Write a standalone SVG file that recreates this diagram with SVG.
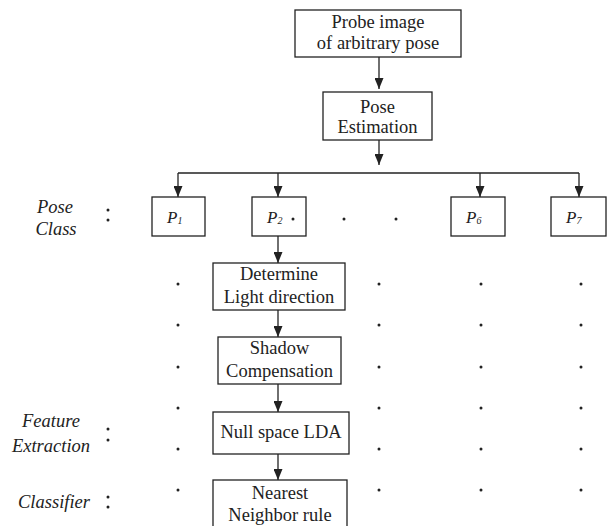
<svg xmlns="http://www.w3.org/2000/svg" width="610" height="526" viewBox="0 0 610 526" font-family="'Liberation Serif', 'Times New Roman', serif">
<style>
.box{fill:#fff;stroke:#222;stroke-width:1.3}
text{font-family:'Liberation Serif','Times New Roman',Times,serif;fill:#222}
.t{font-size:18.5px;text-anchor:middle}
.it{font-style:italic;font-size:18.5px;text-anchor:middle}
.p{font-style:italic;font-size:17px}
.sub{font-size:10px}
.ln{fill:none;stroke:#222;stroke-width:1.3}
.arr{fill:none;stroke:#222;stroke-width:1.3;marker-end:url(#ah)}
.dot{fill:#222}
</style>
<defs>
<marker id="ah" markerUnits="userSpaceOnUse" markerWidth="11" markerHeight="9" refX="11" refY="4.5" orient="auto" viewBox="0 0 11 9">
<path d="M0,0 L11,4.5 L0,9 z" fill="#222"/>
</marker>
</defs>
<rect width="610" height="526" fill="#fff"/>
<g id="connectors">
<path class="arr" d="M379,57 V89"/>
<path class="arr" d="M379,140 V165"/>
<path class="ln" d="M178,173 H579"/>
<path class="arr" d="M178,173 V197"/>
<path class="arr" d="M278,173 V197"/>
<path class="arr" d="M480,173 V197"/>
<path class="arr" d="M579,173 V197"/>
<path class="arr" d="M278,236 V263"/>
<path class="arr" d="M278,310 V337"/>
<path class="arr" d="M278,384 V412"/>
<path class="arr" d="M278,454 V480"/>
</g>
<g id="probe">
<rect class="box" x="295" y="10" width="166" height="47"/>
<text class="t" x="378" y="28">Probe image</text>
<text class="t" x="378" y="49">of arbitrary pose</text>
</g>
<g id="pose-estimation">
<rect class="box" x="323" y="92" width="109" height="48"/>
<text class="t" x="377.5" y="113">Pose</text>
<text class="t" x="377.5" y="133">Estimation</text>
</g>
<g id="p1">
<rect class="box" x="152" y="197" width="53" height="39"/>
<text class="p" x="167" y="223">P<tspan class="sub" dy="1">1</tspan></text>
</g>
<g id="p2">
<rect class="box" x="252" y="197" width="54" height="39"/>
<text class="p" x="267" y="223">P<tspan class="sub" dy="1">2</tspan></text>
<circle class="dot" cx="293" cy="219" r="1.5"/>
</g>
<g id="p6">
<rect class="box" x="451" y="197" width="54" height="39"/>
<text class="p" x="466" y="223">P<tspan class="sub" dy="1">6</tspan></text>
</g>
<g id="p7">
<rect class="box" x="551" y="197" width="55" height="39"/>
<text class="p" x="566" y="223">P<tspan class="sub" dy="1">7</tspan></text>
</g>
<g id="determine">
<rect class="box" x="213" y="263" width="132" height="47"/>
<text class="t" x="279" y="280">Determine</text>
<text class="t" x="279" y="303">Light direction</text>
</g>
<g id="shadow">
<rect class="box" x="218" y="337" width="123" height="47"/>
<text class="t" x="279.5" y="354">Shadow</text>
<text class="t" x="279.5" y="377">Compensation</text>
</g>
<g id="nullspace">
<rect class="box" x="213" y="412" width="136" height="42"/>
<text class="t" x="281" y="438">Null space LDA</text>
</g>
<g id="nearest">
<rect class="box" x="213" y="480" width="134" height="52"/>
<text class="t" x="280" y="499">Nearest</text>
<text class="t" x="280" y="521">Neighbor rule</text>
</g>
<g id="labels">
<text class="it" x="55" y="213">Pose</text>
<text class="it" x="56" y="235">Class</text>
<circle class="dot" cx="108" cy="210" r="1.5"/><circle class="dot" cx="108" cy="220" r="1.5"/>
<text class="it" x="51" y="427">Feature</text>
<text class="it" x="51" y="452">Extraction</text>
<circle class="dot" cx="108" cy="429" r="1.5"/><circle class="dot" cx="108" cy="440" r="1.5"/>
<text class="it" x="54" y="508">Classifier</text>
<circle class="dot" cx="108" cy="497" r="1.5"/><circle class="dot" cx="108" cy="507" r="1.5"/>
</g>
<g id="dots" class="dot">
<circle cx="344" cy="219" r="1.5"/><circle cx="396" cy="219" r="1.5"/>
<circle cx="178" cy="284" r="1.5"/><circle cx="379" cy="284" r="1.5"/><circle cx="481" cy="284" r="1.5"/><circle cx="581" cy="284" r="1.5"/>
<circle cx="178" cy="325" r="1.5"/><circle cx="379" cy="325" r="1.5"/><circle cx="481" cy="325" r="1.5"/><circle cx="581" cy="325" r="1.5"/>
<circle cx="178" cy="367" r="1.5"/><circle cx="379" cy="367" r="1.5"/><circle cx="481" cy="367" r="1.5"/><circle cx="581" cy="367" r="1.5"/>
<circle cx="178" cy="408" r="1.5"/><circle cx="379" cy="408" r="1.5"/><circle cx="481" cy="408" r="1.5"/><circle cx="581" cy="408" r="1.5"/>
<circle cx="178" cy="449" r="1.5"/><circle cx="379" cy="449" r="1.5"/><circle cx="481" cy="449" r="1.5"/><circle cx="581" cy="449" r="1.5"/>
<circle cx="178" cy="490" r="1.5"/><circle cx="379" cy="490" r="1.5"/><circle cx="481" cy="490" r="1.5"/><circle cx="581" cy="490" r="1.5"/>
</g>
</svg>
